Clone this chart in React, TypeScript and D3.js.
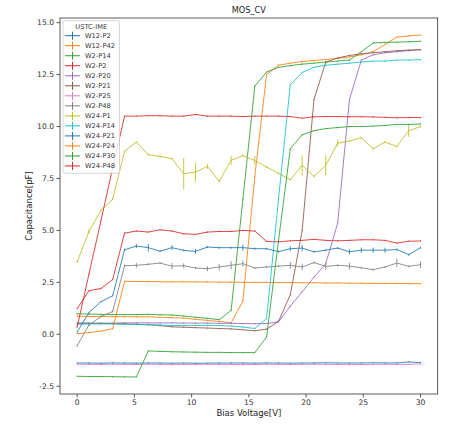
import React from "react";
import * as d3 from "d3";

const voltage = [0, 1.03, 2.07, 3.1, 4.14, 5.17, 6.21, 7.24, 8.28, 9.31, 10.34, 11.38, 12.41, 13.45, 14.48, 15.52, 16.55, 17.59, 18.62, 19.66, 20.69, 21.72, 22.76, 23.79, 24.83, 25.86, 26.9, 27.93, 28.97, 30];

const seriesNames = ["W12-P2", "W12-P42", "W2-P14", "W2-P2", "W2-P20", "W2-P21", "W2-P25", "W2-P48", "W24-P1", "W24-P14", "W24-P21", "W24-P24", "W24-P30", "W24-P48"];
const seriesColors = ["#1f77b4", "#ff7f0e", "#2ca02c", "#d62728", "#9467bd", "#8c564b", "#e377c2", "#7f7f7f", "#bcbd22", "#17becf", "#1f77b4", "#ff7f0e", "#2ca02c", "#d62728"];

const w12p2 = [-1.38, -1.38, -1.39, -1.38, -1.38, -1.39, -1.38, -1.38, -1.39, -1.38, -1.39, -1.39, -1.38, -1.38, -1.38, -1.39, -1.38, -1.38, -1.39, -1.38, -1.38, -1.37, -1.38, -1.38, -1.38, -1.37, -1.38, -1.38, -1.33, -1.36];
const w12p42 = [0.87, 0.86, 0.86, 0.85, 0.85, 0.84, 0.84, 0.82, 0.8, 0.78, 0.72, 0.67, 0.62, 0.55, 1.6, 7.6, 12.5, 12.95, 13.05, 13.12, 13.18, 13.22, 13.28, 13.35, 13.45, 13.6, 13.95, 14.3, 14.36, 14.4];
const w2p14 = [0.99, 0.97, 0.96, 0.95, 0.95, 0.95, 0.96, 0.94, 0.93, 0.88, 0.82, 0.77, 0.7, 1.15, 6.5, 11.94, 12.62, 12.85, 12.93, 13.0, 13.05, 13.1, 13.15, 13.2, 13.6, 14.02, 14.05, 14.06, 14.08, 14.1];
const w2p2 = [1.23, 2.1, 2.2, 2.63, 4.87, 4.97, 4.92, 5.03, 4.97, 4.84, 4.81, 4.92, 4.95, 4.95, 5.0, 4.97, 4.47, 4.45, 4.5, 4.52, 4.57, 4.52, 4.5, 4.52, 4.55, 4.55, 4.52, 4.39, 4.48, 4.49];
const w2p20 = [0.5, 0.52, 0.53, 0.54, 0.55, 0.55, 0.55, 0.55, 0.55, 0.54, 0.54, 0.54, 0.53, 0.53, 0.52, 0.51, 0.52, 0.6, 1.35, 2.05, 2.75, 3.4, 5.35, 11.3, 13.2, 13.45, 13.55, 13.6, 13.65, 13.7];
const w2p21 = [0.55, 0.54, 0.53, 0.52, 0.5, 0.48, 0.46, 0.42, 0.36, 0.34, 0.32, 0.3, 0.28, 0.26, 0.22, 0.17, 0.25, 0.62, 1.9, 5.0, 11.3, 13.1, 13.3, 13.42, 13.5, 13.55, 13.6, 13.65, 13.68, 13.7];
const w2p25 = [-1.44, -1.45, -1.45, -1.44, -1.45, -1.45, -1.44, -1.45, -1.46, -1.45, -1.45, -1.44, -1.45, -1.45, -1.46, -1.45, -1.44, -1.45, -1.45, -1.45, -1.44, -1.45, -1.45, -1.46, -1.45, -1.45, -1.44, -1.45, -1.45, -1.42];
const w2p48 = [-0.55, 0.45, 0.85, 1.1, 3.3, 3.32, 3.37, 3.43, 3.28, 3.3, 3.19, 3.16, 3.24, 3.32, 3.4, 3.19, 3.24, 3.28, 3.32, 3.24, 3.45, 3.27, 3.32, 3.28, 3.2, 3.11, 3.24, 3.43, 3.27, 3.35];
const w24p1 = [3.48, 4.95, 5.96, 6.5, 8.81, 9.25, 8.65, 8.56, 8.45, 7.73, 7.8, 8.08, 7.36, 8.37, 8.6, 8.37, 8.05, 7.75, 7.44, 8.13, 7.6, 8.13, 9.2, 9.3, 9.46, 8.93, 9.25, 9.04, 9.8, 10.0];
const w24p14 = [0.5, 0.5, 0.5, 0.5, 0.48, 0.48, 0.47, 0.45, 0.42, 0.42, 0.42, 0.43, 0.42, 0.4, 0.35, 0.28, 0.75, 6.5, 12.0, 12.6, 12.85, 12.95, 13.0, 13.05, 13.1, 13.15, 13.15, 13.2, 13.2, 13.22];
const w24p21 = [0.11, 1.05, 1.57, 1.85, 4.07, 4.25, 4.17, 4.0, 4.17, 4.04, 3.99, 4.2, 4.17, 4.17, 4.17, 4.12, 4.12, 3.98, 4.12, 4.15, 3.97, 4.05, 4.15, 3.97, 4.05, 4.05, 4.05, 4.08, 3.83, 4.17];
const w24p24 = [0.03, 0.08, 0.15, 0.27, 2.55, 2.54, 2.54, 2.53, 2.53, 2.53, 2.52, 2.52, 2.51, 2.51, 2.5, 2.5, 2.5, 2.49, 2.49, 2.48, 2.48, 2.47, 2.47, 2.46, 2.46, 2.45, 2.45, 2.45, 2.44, 2.44];
const w24p30 = [-2.02, -2.03, -2.03, -2.04, -2.05, -2.05, -0.8, -0.82, -0.84, -0.85, -0.86, -0.87, -0.87, -0.88, -0.88, -0.88, -0.13, 4.5, 8.93, 9.6, 9.8, 9.9, 9.95, 10.0, 10.0, 10.02, 10.05, 10.1, 10.1, 10.12];
const w24p48 = [0.35, 2.9, 5.45, 8.0, 10.5, 10.5, 10.52, 10.52, 10.5, 10.5, 10.58, 10.5, 10.5, 10.5, 10.48, 10.5, 10.5, 10.5, 10.48, 10.4, 10.47, 10.48, 10.48, 10.47, 10.47, 10.46, 10.44, 10.42, 10.43, 10.43];

const errGrey = [0.05, 0.05, 0.05, 0.05, 0.05, 0.12, 0.05, 0.05, 0.15, 0.12, 0.05, 0.12, 0.15, 0.2, 0.15, 0.05, 0.05, 0.05, 0.16, 0.16, 0.05, 0.16, 0.05, 0.16, 0.05, 0.05, 0.05, 0.2, 0.05, 0.16];
const errBlue = [0.03, 0.03, 0.03, 0.03, 0.05, 0.1, 0.18, 0.05, 0.12, 0.05, 0.12, 0.05, 0.05, 0.05, 0.15, 0.05, 0.05, 0.05, 0.12, 0.15, 0.05, 0.05, 0.05, 0.12, 0.12, 0.12, 0.12, 0.05, 0.05, 0.05];
const errOlive = [0.05, 0.1, 0.05, 0.05, 0.05, 0.05, 0.05, 0.05, 0.05, 0.75, 0.44, 0.12, 0.05, 0.22, 0.05, 0.22, 0.05, 0.05, 0.05, 0.48, 0.05, 0.48, 0.15, 0.05, 0.05, 0.05, 0.05, 0.05, 0.3, 0.05];
const errSmall = [0.03, 0.03, 0.03, 0.03, 0.03, 0.03, 0.03, 0.03, 0.03, 0.03, 0.03, 0.03, 0.03, 0.03, 0.03, 0.03, 0.03, 0.03, 0.03, 0.03, 0.03, 0.03, 0.03, 0.03, 0.03, 0.03, 0.03, 0.03, 0.03, 0.03];

const seriesValues = [w12p2, w12p42, w2p14, w2p2, w2p20, w2p21, w2p25, w2p48, w24p1, w24p14, w24p21, w24p24, w24p30, w24p48];
const seriesErrors = [errSmall, errSmall, errSmall, errSmall, errSmall, errSmall, errSmall, errGrey, errOlive, errSmall, errBlue, errSmall, errSmall, errSmall];

const xTicks = [0, 5, 10, 15, 20, 25, 30];
const yTicks = [-2.5, 0, 2.5, 5, 7.5, 10, 12.5, 15];

const W = 451, H = 426;
const left = 60, right = 437.7, top = 18, bottom = 394;
const FONT = "DejaVu Sans, sans-serif";

export default function App() {
  const x = d3.scaleLinear().domain([-1.5, 31.5]).range([left, right]);
  const allVals = seriesValues.flat();
  const lo = d3.min(allVals) as number;
  const hi = d3.max(allVals) as number;
  const pad = (hi - lo) * 0.05;
  const y = d3.scaleLinear().domain([lo - pad, hi + pad]).range([bottom, top]);
  const line = d3.line<number>().x((_, i) => x(voltage[i])).y((d) => y(d));

  return (
    <svg width={W} height={H} style={{ position: "absolute", left: 0, top: 0, background: "#fff" }} fontFamily={FONT}>
      <rect x={0} y={0} width={W} height={H} fill="#fff" />
      <defs>
        <clipPath id="plotclip">
          <rect x={left} y={top} width={right - left} height={bottom - top} />
        </clipPath>
      </defs>
      <g clipPath="url(#plotclip)">
        {seriesValues.map((vals, si) => (
          <g key={seriesNames[si]} stroke={seriesColors[si]} fill="none" strokeOpacity={0.85}>
            <path d={line(vals) || ""} strokeWidth={1} />
            {vals.map((v, i) => (
              <line key={i} x1={x(voltage[i])} x2={x(voltage[i])} y1={y(v - seriesErrors[si][i])} y2={y(v + seriesErrors[si][i])} strokeWidth={1} />
            ))}
          </g>
        ))}
      </g>
      <rect x={left} y={top} width={right - left} height={bottom - top} fill="none" stroke="#333" strokeWidth={0.8} />
      {xTicks.map((t) => (
        <g key={"x" + t}>
          <line x1={x(t)} x2={x(t)} y1={bottom} y2={bottom + 3.5} stroke="#333" strokeWidth={0.8} />
          <text x={x(t)} y={bottom + 11} fontSize={7.6} textAnchor="middle" fill="#333">{t}</text>
        </g>
      ))}
      {yTicks.map((t) => (
        <g key={"y" + t}>
          <line x1={left - 3.5} x2={left} y1={y(t)} y2={y(t)} stroke="#333" strokeWidth={0.8} />
          <text x={left - 6} y={y(t)} dy="0.35em" fontSize={7.6} textAnchor="end" fill="#333">{t.toFixed(1)}</text>
        </g>
      ))}
      <text x={(left + right) / 2} y={13} fontSize={8.2} textAnchor="middle" fill="#222">MOS_CV</text>
      <text x={(left + right) / 2} y={416} fontSize={8.5} textAnchor="middle" fill="#222">Bias Voltage[V]</text>
      <text transform={`translate(32,${(top + bottom) / 2}) rotate(-90)`} fontSize={8.5} textAnchor="middle" fill="#222">Capacitance[pF]</text>
      <g>
        <rect x={63} y={20.7} width={56.5} height={152.6} rx={2} fill="#fff" fillOpacity={0.8} stroke="#ccc" strokeWidth={0.8} />
        <text x={91.2} y={26.5} dy="0.35em" fontSize={6.7} textAnchor="middle" fill="#333">USTC-IME</text>
        {seriesNames.map((name, k) => {
          const cy = 35.7 + k * 10.02;
          return (
            <g key={name}>
              <line x1={65} x2={80} y1={cy} y2={cy} stroke={seriesColors[k]} strokeWidth={1} />
              <line x1={72.5} x2={72.5} y1={cy - 4} y2={cy + 4} stroke={seriesColors[k]} strokeWidth={1} />
              <text x={85} y={cy} dy="0.35em" fontSize={6.7} fill="#333">{name}</text>
            </g>
          );
        })}
      </g>
    </svg>
  );
}
